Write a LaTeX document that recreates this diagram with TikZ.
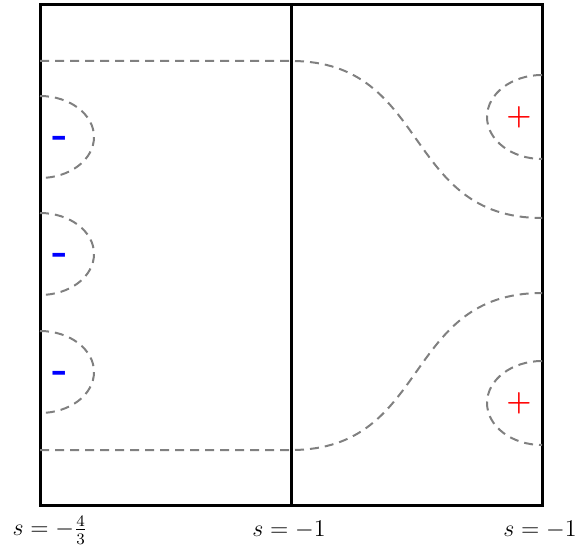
\documentclass[tikz,border=0pt]{standalone}
\begin{document}
\begin{tikzpicture}[x=0.5pt,y=-0.5pt,
  frame/.style={line width=1.5pt,black},
  field/.style={line width=1pt,gray,dash pattern=on 4.5pt off 3pt},
  minus/.style={text=blue,font=\huge\bfseries,inner sep=0pt},
  plus/.style={text=red,font=\Large\boldmath,inner sep=0pt},
  lab/.style={font=\large,inner sep=0pt}]
\useasboundingbox (0,0) rectangle (577,550);
% frame
\draw[frame] (40,5) rectangle (542,505);
\draw[frame] (291,5) -- (291,505);
% field lines
\draw[field] (40,61) -- (291,61) .. controls (431,61) and (402,218) .. (542,218);
\draw[field] (40,450) -- (291,450) .. controls (431,450) and (402,293) .. (542,293);
% left arcs
\draw[field] (40,96) arc[start angle=-90,end angle=90,x radius=54,y radius=41];
\draw[field] (40,213) arc[start angle=-90,end angle=90,x radius=54,y radius=41];
\draw[field] (40,331) arc[start angle=-90,end angle=90,x radius=54,y radius=41];
% right arcs
\draw[field] (542,75) arc[start angle=-90,end angle=-270,x radius=55,y radius=42];
\draw[field] (542,361) arc[start angle=-90,end angle=-270,x radius=55,y radius=42];
% charges
\node[minus] (m1) at (60,142) {-};
\node[minus] (m2) at (60,259) {-};
\node[minus] (m3) at (60,377) {-};
\node[plus] (p1) at (519,117) {$+$};
\node[plus] (p2) at (519,403) {$+$};
% labels
\node[lab] (l1) at (50,530) {$s=-\frac{4}{3}$};
\node[lab] (l2) at (289,530) {$s=-1$};
\node[lab] (l3) at (540,530) {$s=-1$};
\end{tikzpicture}
\end{document}
